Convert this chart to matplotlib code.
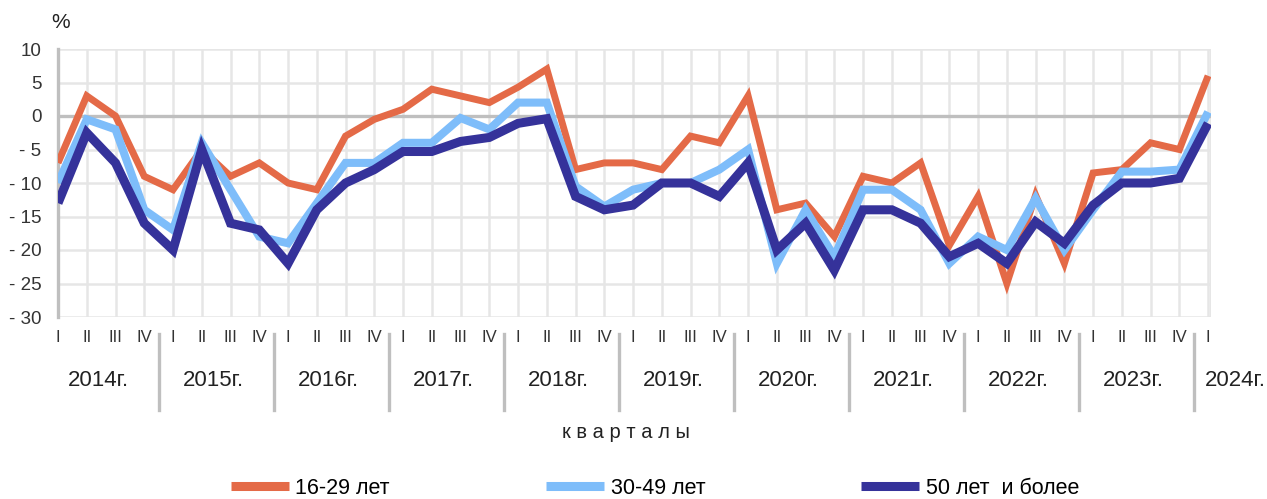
import matplotlib
matplotlib.use("Agg")
import matplotlib.pyplot as plt
import matplotlib.transforms as mtransforms

plt.rcParams['font.family'] = ['Liberation Sans', 'DejaVu Sans']

quarters = ["I", "II", "III", "IV"]
years = ["2014г.", "2015г.", "2016г.", "2017г.", "2018г.", "2019г.",
         "2020г.", "2021г.", "2022г.", "2023г.", "2024г."]
series_names = ["16-29 лет", "30-49 лет", "50 лет  и более"]

age_16_29 = [-7, 3, 0, -9, -11, -5, -9, -7, -10, -11,
             -3, -0.5, 1, 4, 3, 2, 4.3, 7, -8, -7,
             -7, -8, -3, -4, 3, -14, -13, -18, -9, -10,
             -7, -19.3, -12, -25, -11.8, -22, -8.5, -8, -4, -5,
             6]
age_30_49 = [-10, -0.5, -2, -14, -17, -4, -11, -18, -19, -13,
             -7, -7, -4, -4, -0.3, -2, 2, 2, -10.5, -13.5,
             -11, -10, -10, -8, -5, -22, -14, -21, -11, -11,
             -14, -22, -18, -20, -12.3, -20, -14, -8.3, -8.3, -8,
             0.6]
age_50_plus = [-13, -2.5, -7, -16, -20, -5, -16, -17, -22, -14,
               -10, -8, -5.3, -5.3, -3.8, -3.2, -1.1, -0.4, -12, -14,
               -13.3, -10, -10, -12, -7, -20, -16, -23, -14, -14,
               -16, -21, -19, -22, -15.8, -19, -13.3, -10, -10, -9.3,
               -1.1]

colors = ["#E46A47", "#7EBDFA", "#35329A"]
widths = [5.0, 5.8, 6.5]

n = len(age_16_29)
xs = list(range(n))

fig = plt.figure(figsize=(12.67, 4.99), dpi=100)
ax = fig.add_axes([58/1267, 1-317/499, (1211-58)/1267, (317-49)/499])

ax.set_xlim(0, n - 1 + 0.1)
ax.set_ylim(-30, 10)

# grid
for x in range(n):
    ax.axvline(x, color="#E6E6E6", lw=1.8, zorder=0)
ax.axvline(n - 1 + 0.1, color="#E6E6E6", lw=2.5, zorder=0)
for y in range(-30, 11, 5):
    ax.axhline(y, color="#E6E6E6", lw=1.8, zorder=0)
ax.axhline(0, color="#BFBFBF", lw=2.4, zorder=1)

for s in ax.spines.values():
    s.set_visible(False)
ax.spines['left'].set_visible(True)
ax.spines['left'].set_color("#BFBFBF")
ax.spines['left'].set_linewidth(2.4)

for vals, c, w, name in zip([age_16_29, age_30_49, age_50_plus], colors, widths, series_names):
    ax.plot(xs, vals, color=c, lw=w, label=name, solid_joinstyle='miter',
            solid_capstyle='butt', zorder=3)

yt = list(range(-30, 11, 5))
ax.set_yticks(yt)
ax.set_yticklabels([("- " + str(-v)) if v < 0 else str(v) for v in yt],
                   fontsize=13.5, color="#333333")
ax.tick_params(axis='y', length=0, pad=12)
ax.set_xticks([])

# quarter labels, year labels, separators
trans = mtransforms.blended_transform_factory(ax.transData, fig.transFigure)
for i in range(n):
    ax.text(i, 1 - 338/499, quarters[i % 4], transform=trans, ha='center',
            va='center', fontsize=12, color="#333333")
for k, yl in enumerate(years):
    if k < len(years) - 1:
        ax.text(4 * k + 1.4, 1 - 381/499, yl, transform=trans, ha='center',
                va='center', fontsize=16, color="#222222")
    else:
        ax.text(4 * k - 0.1, 1 - 381/499, yl, transform=trans, ha='left',
                va='center', fontsize=16, color="#222222")
for k in range(1, len(years)):
    xsep = 4 * k - 0.5
    ax.plot([xsep, xsep], [1 - 334/499, 1 - 410/499], transform=trans,
            color="#BFBFBF", lw=2.4, clip_on=False)

fig.text(626/1267, 1 - 433/499, "к в а р т а л ы", ha='center', va='center',
         fontsize=14.5, color="#222222")
fig.text(61/1267, 1 - 22/499, "%", ha='center', va='center', fontsize=15,
         color="#222222")

leg = fig.legend(loc='center', bbox_to_anchor=(655/1267, 1 - 488/499), ncol=3,
                 frameon=False, fontsize=15.5, handlelength=2.7,
                 handletextpad=0.3, columnspacing=7.25)
for line in leg.get_lines():
    line.set_linewidth(6.5)
    line.set_solid_capstyle('butt')

fig.savefig("out.png", dpi=100)
